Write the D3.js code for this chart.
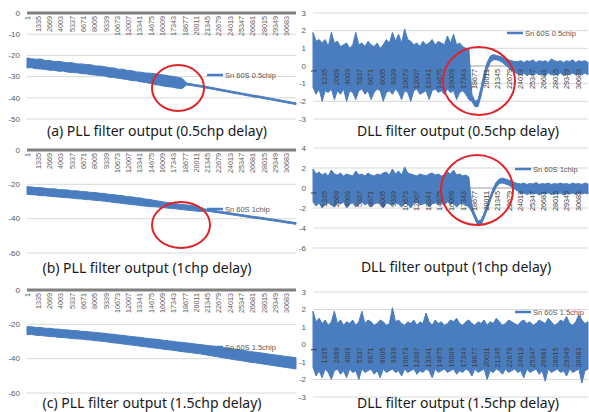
<!DOCTYPE html>
<html><head><meta charset="utf-8">
<script src="https://cdn.jsdelivr.net/npm/d3@7"></script>
<style>body{margin:0;background:#fff;} svg{display:block;}</style>
</head><body>
<svg id="c" width="589" height="412"></svg>
<script>
const N_SAMPLES = 31800;
const tickLabels = ["1","1335","2669","4003","5337","6671","8005","9339","10673","12007","13341","14675","16009","17343","18677","20011","21345","22679","24013","25347","26681","28015","29349","30683"];
const tickSamples = [1,1335,2669,4003,5337,6671,8005,9339,10673,12007,13341,14675,16009,17343,18677,20011,21345,22679,24013,25347,26681,28015,29349,30683];

// PLL filter outputs: upper / lower envelope of the noisy trace, evenly spaced over the samples
const pllA_hi = [-21.2,-21.6,-21.8,-21.7,-22.4,-22.4,-22.9,-22.8,-23.2,-23.5,-23.5,-24.0,-24.0,-24.3,-24.4,-25.0,-25.0,-25.3,-25.8,-25.9,-26.5,-26.5,-27.1,-27.2,-27.8,-27.9,-28.3,-28.4,-28.6,-29.0,-29.2,-29.6,-29.9,-30.3,-30.8,-33.0,-33.4,-33.8,-34.1,-34.5,-34.9,-35.3,-35.7,-36.1,-36.5,-36.9,-37.3,-37.7,-38.1,-38.5,-38.9,-39.2,-39.6,-40.0,-40.4,-40.8,-41.2,-41.6,-42.0,-42.4];
const pllA_lo = [-25.9,-25.8,-26.3,-26.4,-26.6,-27.0,-27.0,-27.5,-27.4,-27.9,-28.1,-28.2,-28.6,-28.7,-29.1,-29.3,-29.5,-29.7,-30.3,-30.4,-30.8,-31.1,-31.4,-31.9,-32.0,-32.5,-32.8,-33.2,-33.8,-34.0,-34.5,-34.8,-35.0,-35.5,-35.6,-34.0,-34.2,-34.6,-34.9,-35.3,-35.7,-36.1,-36.5,-36.9,-37.3,-37.7,-38.1,-38.5,-38.9,-39.3,-39.7,-40.0,-40.4,-40.8,-41.2,-41.6,-42.0,-42.4,-42.8,-43.2];
const pllB_hi = [-21.3,-21.5,-21.9,-21.9,-22.3,-22.6,-22.6,-23.1,-23.2,-23.3,-23.8,-23.8,-24.2,-24.3,-24.7,-24.8,-25.2,-25.3,-25.9,-26.0,-26.4,-26.6,-27.2,-27.3,-27.8,-28.0,-28.6,-28.8,-29.4,-29.8,-30.3,-30.6,-31.0,-31.4,-31.7,-32.0,-32.3,-32.8,-33.2,-34.3,-34.8,-35.2,-35.6,-36.0,-36.4,-36.8,-37.2,-37.6,-38.0,-38.4,-38.8,-39.1,-39.5,-39.9,-40.3,-40.7,-41.1,-41.5,-41.9,-42.3];
const pllB_lo = [-25.8,-26.0,-26.2,-26.6,-26.6,-27.0,-27.2,-27.4,-27.7,-27.8,-28.1,-28.4,-28.5,-28.9,-29.0,-29.4,-29.5,-29.9,-30.1,-30.6,-30.8,-31.2,-31.5,-31.8,-32.1,-32.4,-32.7,-33.0,-33.1,-33.3,-33.6,-33.9,-34.1,-34.4,-34.7,-35.0,-35.3,-35.6,-35.8,-35.5,-35.8,-36.2,-36.6,-37.0,-37.4,-37.8,-38.2,-38.6,-39.0,-39.4,-39.8,-40.1,-40.5,-40.9,-41.3,-41.7,-42.1,-42.5,-42.9,-43.3];
const pllC_hi = [-21.3,-21.4,-21.8,-21.8,-22.3,-22.3,-22.7,-22.8,-23.2,-23.3,-23.6,-23.7,-24.1,-24.2,-24.5,-24.7,-25.0,-25.2,-25.6,-25.8,-26.2,-26.4,-26.8,-27.1,-27.4,-27.6,-28.1,-28.4,-28.6,-28.9,-29.3,-29.6,-29.9,-30.3,-30.5,-30.8,-31.1,-31.5,-31.8,-32.1,-32.5,-32.8,-33.2,-33.5,-33.9,-34.2,-34.6,-35.0,-35.4,-35.8,-36.2,-36.5,-36.9,-37.3,-37.7,-38.0,-38.4,-38.8,-39.1,-39.5];
const pllC_lo = [-26.0,-25.9,-26.4,-26.5,-26.8,-27.1,-27.2,-27.6,-27.7,-28.0,-28.3,-28.5,-28.6,-29.0,-29.1,-29.6,-29.7,-30.0,-30.4,-30.8,-31.0,-31.4,-31.8,-32.1,-32.4,-32.8,-33.1,-33.5,-33.8,-34.1,-34.5,-34.8,-35.1,-35.5,-35.9,-36.2,-36.5,-36.9,-37.2,-37.7,-38.1,-38.6,-39.0,-39.5,-39.9,-40.4,-40.8,-41.2,-41.6,-42.1,-42.4,-42.8,-43.2,-43.6,-44.0,-44.4,-44.8,-45.2,-45.6,-46.0];

// DLL filter outputs: upper / lower envelope
const dllA_hi = [1.9,1.4,1.5,1.3,1.5,1.1,1.9,1.3,1.4,1.1,1.2,1.3,1.0,1.2,1.9,1.2,1.3,1.1,1.4,1.2,1.1,1.3,1.0,1.2,1.5,1.3,1.9,1.4,1.8,1.3,2.1,1.5,1.4,1.2,1.3,1.1,1.4,1.2,1.3,1.5,1.2,1.4,1.3,1.2,1.7,1.3,1.8,1.2,1.3,1.1,1.0,1.0,
  -1.6,-2.0,-1.9,-1.2,-0.4,0.2,0.55,0.65,0.6,0.55,0.5,0.45,0.35,0.3,0.25,
  0.25,0.3,0.2,0.3,0.25,0.35,0.2,0.3,0.25,0.3,0.2,0.4,0.3,0.25,0.3,0.2,0.3,0.25,0.35,0.2,0.3,0.25,0.3,0.2];
const dllA_lo = [-1.2,-1.6,-1.3,-2.0,-1.4,-1.5,-1.3,-1.9,-1.4,-1.6,-1.3,-2.0,-1.4,-1.5,-1.9,-1.4,-1.3,-1.6,-1.4,-1.9,-1.5,-1.3,-1.4,-2.0,-1.5,-1.4,-1.6,-1.3,-1.5,-1.9,-1.4,-1.5,-2.0,-1.4,-1.3,-1.6,-1.5,-1.4,-1.9,-1.4,-1.3,-1.5,-1.4,-1.6,-1.3,-1.5,-1.4,-1.9,-1.5,-1.4,-1.6,-1.9,
  -2.0,-2.3,-2.3,-1.7,-0.9,-0.2,0.2,0.35,0.35,0.3,0.2,0.05,-0.1,-0.25,-0.35,
  -0.45,-0.5,-0.4,-0.55,-0.45,-0.5,-0.4,-0.5,-0.45,-0.55,-0.4,-0.5,-0.45,-0.5,-0.4,-0.55,-0.45,-0.5,-0.4,-0.5,-0.45,-0.5,-0.4,-0.5];
const dllB_hi = [1.9,1.4,1.6,1.3,1.5,1.2,1.8,1.4,1.3,1.5,1.2,1.4,1.3,1.2,1.7,1.3,1.4,1.2,1.5,1.3,1.2,1.4,1.3,1.5,1.6,1.3,1.9,1.4,1.7,1.3,2.1,1.5,1.4,1.3,1.2,1.4,1.3,1.2,1.4,1.5,1.3,1.4,1.2,1.3,1.6,1.4,1.8,1.3,1.4,1.2,1.3,1.1,
  -1.8,-2.6,-3.3,-3.2,-2.5,-1.7,-0.8,0.0,0.6,0.9,1.0,0.9,0.8,0.7,0.55,0.45,
  0.4,0.5,0.35,0.45,0.4,0.55,0.35,0.45,0.4,0.5,0.35,0.45,0.4,0.5,0.4,0.45,0.35,0.5,0.4,0.45,0.35,0.5,0.4];
const dllB_lo = [-1.4,-1.8,-1.5,-2.0,-1.6,-1.5,-1.7,-1.9,-1.5,-1.6,-1.4,-2.0,-1.6,-1.5,-1.9,-1.6,-1.4,-1.7,-1.5,-1.9,-1.6,-1.5,-1.6,-2.0,-1.5,-1.6,-1.7,-1.5,-1.6,-1.9,-1.5,-1.6,-2.0,-1.5,-1.4,-1.7,-1.6,-1.5,-1.9,-1.6,-1.5,-1.6,-1.5,-1.7,-1.4,-1.6,-1.5,-1.9,-1.6,-1.5,-1.7,-1.9,
  -2.4,-3.1,-3.8,-3.7,-3.0,-2.2,-1.3,-0.5,0.1,0.45,0.5,0.4,0.3,0.1,-0.1,-0.3,
  -0.6,-0.5,-0.65,-0.55,-0.6,-0.5,-0.7,-0.55,-0.6,-0.5,-0.65,-0.55,-0.6,-0.5,-0.7,-0.55,-0.6,-0.5,-0.65,-0.55,-0.6,-0.5,-0.6];
const dllC_hi = [1.9,1.3,1.5,1.2,1.4,1.1,1.3,1.9,1.2,1.4,1.1,1.3,1.2,1.4,1.1,1.3,1.9,1.2,1.4,1.3,1.1,1.2,1.4,1.3,1.1,1.2,2.1,1.3,1.4,1.2,1.1,1.3,1.2,1.4,1.1,1.3,1.2,1.8,1.3,1.1,1.4,1.2,1.3,1.1,1.2,1.4,1.3,1.5,1.2,1.1,1.3,1.4,1.2,1.1,1.3,1.2,1.4,1.1,1.3,1.2,1.5,1.3,1.1,1.2,1.4,1.3,1.2,1.1,1.3,1.4,1.2,1.3,1.1,1.2,1.4,1.3,1.2,1.5,1.3,1.1,1.2,1.4,1.3,1.6,1.2,1.1,1.3,1.7,1.4,1.2,1.3];
const dllC_lo = [-1.3,-1.8,-1.5,-1.9,-1.4,-1.6,-2.0,-1.5,-1.4,-1.7,-1.5,-1.9,-1.4,-1.6,-1.5,-2.0,-1.4,-1.6,-1.5,-1.4,-1.7,-1.5,-1.9,-1.4,-1.6,-1.5,-1.4,-1.6,-1.5,-1.8,-1.4,-1.6,-1.5,-1.4,-1.7,-1.5,-1.6,-1.4,-1.5,-1.9,-1.4,-1.6,-1.5,-1.4,-1.6,-1.5,-1.4,-1.7,-1.5,-1.6,-1.4,-1.5,-1.8,-1.4,-1.6,-1.5,-1.4,-2.0,-1.5,-1.6,-1.4,-1.5,-1.7,-1.4,-1.6,-1.5,-1.4,-1.6,-1.5,-1.9,-1.4,-1.6,-1.5,-1.4,-1.7,-1.5,-2.1,-1.4,-1.6,-1.5,-1.4,-1.6,-1.5,-1.8,-1.4,-1.6,-1.5,-1.4,-2.2,-1.5,-1.4];

const legendLabels = ["Sn 60S 0.5chip","Sn 60S 1chip","Sn 60S 1.5chip"];
const captionsPLL = ["(a) PLL filter output (0.5chp delay)","(b) PLL filter output (1chp delay)","(c) PLL filter output (1.5chp delay)"];
const captionsDLL = ["DLL filter output (0.5chp delay)","DLL filter output (1chp delay)","DLL filter output (1.5chp delay)"];
const yTicksPLL = [[0,-10,-20,-30,-40,-50],[0,-20,-40,-60],[0,-20,-40,-60]];
const yTicksDLL = [[3,2,1,0,-1,-2,-3],[4,2,0,-2,-4,-6],[3,2,1,0,-1,-2,-3]];

const BLUE = "#4a7dbf";
const svg = d3.select("#c");

const panels = [
  {type:"pll", hi:pllA_hi, lo:pllA_lo, ticks:yTicksPLL[0], x0:27, x1:296, yTop:13, yBot:119, leg:{x:207,y:75,t:legendLabels[0]}, circle:{cx:178,cy:88,rx:26,ry:23}, cap:{x:157,y:136,t:captionsPLL[0]}},
  {type:"dll", hi:dllA_hi, lo:dllA_lo, ticks:yTicksDLL[0], x0:313, x1:588, yTop:13, yBot:119, leg:{x:507,y:33,t:legendLabels[0]}, circle:{cx:479,cy:81,rx:36,ry:34}, cap:{x:458,y:136,t:captionsDLL[0]}},
  {type:"pll", hi:pllB_hi, lo:pllB_lo, ticks:yTicksPLL[1], x0:27, x1:296, yTop:150, yBot:253, leg:{x:207,y:209,t:legendLabels[1]}, circle:{cx:181,cy:225,rx:29,ry:23}, cap:{x:147,y:273,t:captionsPLL[1]}},
  {type:"dll", hi:dllB_hi, lo:dllB_lo, ticks:yTicksDLL[1], x0:313, x1:588, yTop:148, yBot:248, leg:{x:515,y:169,t:legendLabels[1]}, circle:{cx:477,cy:190,rx:36,ry:35}, cap:{x:456,y:272,t:captionsDLL[1]}},
  {type:"pll", hi:pllC_hi, lo:pllC_lo, ticks:yTicksPLL[2], x0:27, x1:296, yTop:290, yBot:393, leg:{x:207,y:347,t:legendLabels[2]}, circle:null, cap:{x:152,y:408,t:captionsPLL[2]}},
  {type:"dll", hi:dllC_hi, lo:dllC_lo, ticks:yTicksDLL[2], x0:313, x1:588, yTop:292, yBot:397, leg:{x:515,y:312,t:legendLabels[2]}, circle:null, cap:{x:458,y:408,t:captionsDLL[2]}}
];

function drawTickLabels(g, x, y0, color) {
  g.append("g").selectAll("text").data(tickLabels).join("text")
    .attr("transform", (d, i) => `translate(${x(tickSamples[i])},${y0 + 3}) rotate(-90)`)
    .attr("text-anchor", "end").attr("dy", "0.35em")
    .attr("font-family", "Liberation Sans, Arial, sans-serif").attr("font-size", 7.2)
    .attr("fill", color).text(d => d);
}

panels.forEach(p => {
  const g = svg.append("g");
  const dom = d3.extent(p.ticks);
  const x = d3.scaleLinear().domain([0, N_SAMPLES]).range([p.x0, p.x1]);
  const y = d3.scaleLinear().domain(dom).range([p.yBot, p.yTop]);

  // gridlines
  g.append("g").selectAll("line").data(p.ticks.filter(t => t !== 0)).join("line")
    .attr("x1", p.x0).attr("x2", p.x1).attr("y1", d => y(d)).attr("y2", d => y(d))
    .attr("stroke", "#d9d9d9").attr("stroke-width", 1);
  // y tick labels
  g.append("g").selectAll("text").data(p.ticks).join("text")
    .attr("x", p.x0 - 7).attr("y", d => y(d)).attr("dy", "0.35em")
    .attr("text-anchor", "end").attr("font-family", "Liberation Sans, Arial, sans-serif")
    .attr("font-size", 8).attr("fill", "#595959").text(d => d);

  // zero axis
  g.append("line").attr("x1", p.x0).attr("x2", p.x1).attr("y1", y(0)).attr("y2", y(0))
    .attr("stroke", p.type === "pll" ? "#808080" : "#a0a0a0").attr("stroke-width", p.type === "pll" ? 3 : 1.2);

  if (p.type === "pll") drawTickLabels(g, x, y(0), "#606060");

  // data band
  const n = Math.min(p.hi.length, p.lo.length);
  const xi = i => x(i * N_SAMPLES / (n - 1));
  const area = d3.area().x(xi).y0(i => y(p.lo[i])).y1(i => y(p.hi[i]));
  g.append("path").attr("d", area(d3.range(n)))
    .attr("fill", BLUE).attr("stroke", BLUE).attr("stroke-width", 1).attr("stroke-linejoin", "round");

  if (p.type === "dll") drawTickLabels(g, x, y(0), "#3d3d3d");

  // legend
  g.append("line").attr("x1", p.leg.x).attr("x2", p.leg.x + 16).attr("y1", p.leg.y).attr("y2", p.leg.y)
    .attr("stroke", BLUE).attr("stroke-width", 2.5);
  g.append("text").attr("x", p.leg.x + 18).attr("y", p.leg.y).attr("dy", "0.35em")
    .attr("font-family", "Liberation Sans, Arial, sans-serif").attr("font-size", 7.5)
    .attr("fill", "#595959").text(p.leg.t);

  // red circle
  if (p.circle) {
    g.append("ellipse").attr("cx", p.circle.cx).attr("cy", p.circle.cy)
      .attr("rx", p.circle.rx).attr("ry", p.circle.ry)
      .attr("fill", "none").attr("stroke", "#e0242b").attr("stroke-width", 2);
  }

  // caption
  g.append("text").attr("x", p.cap.x).attr("y", p.cap.y).attr("text-anchor", "middle")
    .attr("font-family", "Noto Sans, Open Sans, sans-serif").attr("font-size", 14)
    .attr("fill", "#1a1a1a").text(p.cap.t);
});
</script>
</body></html>
